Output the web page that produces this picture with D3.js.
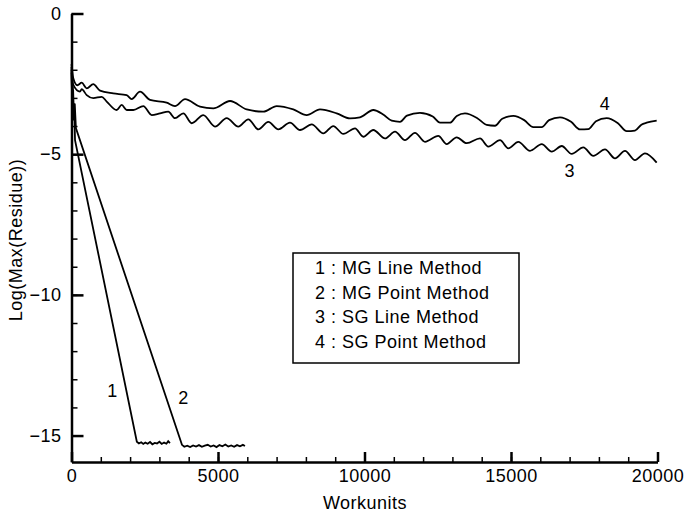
<!DOCTYPE html>
<html>
<head>
<meta charset="utf-8">
<script src="https://cdn.jsdelivr.net/npm/d3@7"></script>
<style>
  body { margin: 0; background: #fff; }
  svg { display: block; }
  text { font-family: "Liberation Sans", Arial, Helvetica, sans-serif; fill: #000; }
</style>
</head>
<body>
<svg id="chart" width="686" height="517"></svg>
<script>
// [workunits, log(max residue)]
const mgLine = [[0,-1.9],[25,-3.4],[45,-2.6],[70,-3.8],[90,-3.2],[120,-4.5],[2230,-15.22],
  [2300,-15.28],[2380,-15.24],[2450,-15.30],[2520,-15.25],[2600,-15.29],[2680,-15.23],[2760,-15.31],
  [2840,-15.26],[2920,-15.28],[3000,-15.22],[3080,-15.30],[3160,-15.25],[3240,-15.29],[3300,-15.20],[3360,-15.27]];
const mgPoint = [[0,-2.1],[30,-3.3],[55,-2.7],[80,-3.6],[110,-3.2],[150,-4.07],[3770,-15.33],
  [3850,-15.40],[3950,-15.36],[4050,-15.41],[4150,-15.35],[4250,-15.39],[4350,-15.34],[4450,-15.40],
  [4550,-15.36],[4650,-15.33],[4750,-15.39],[4850,-15.35],[4950,-15.41],[5050,-15.34],[5150,-15.38],
  [5250,-15.32],[5350,-15.39],[5450,-15.35],[5550,-15.40],[5650,-15.34],[5750,-15.38],[5850,-15.33],[5920,-15.37]];
const sgLine = [[0,-2.0],[61,-2.54],[290,-2.78],[348,-2.69],[519,-2.90],[744,-3.01],[1030,-2.96],[1201,-3.13],
  [1543,-3.43],[1713,-3.25],[1884,-3.43],[2110,-3.43],[2451,-3.29],[2737,-3.61],[3021,-3.55],[3304,-3.49],
  [3532,-3.72],[3816,-3.55],[4102,-3.90],[4498,-3.61],[4898,-4.02],[5297,-3.72],[5693,-4.02],[6034,-3.76],
  [6376,-4.12],[6717,-3.85],[7058,-4.12],[7457,-3.88],[7799,-4.14],[8198,-3.94],[8594,-4.26],[8935,-4.00],
  [9277,-4.28],[9676,-4.08],[9959,-4.38],[10300,-4.14],[10700,-4.44],[11041,-4.20],[11382,-4.50],[11723,-4.24],
  [12065,-4.56],[12519,-4.35],[12805,-4.64],[13146,-4.40],[13488,-4.61],[13942,-4.44],[14225,-4.73],[14625,-4.50],
  [14908,-4.79],[15249,-4.56],[15649,-4.88],[16048,-4.64],[16389,-4.91],[16731,-4.71],[17072,-4.99],[17468,-4.76],
  [17809,-5.06],[18208,-4.83],[18550,-5.15],[18890,-4.88],[19232,-5.21],[19573,-4.97],[19972,-5.30]];
const sgPoint = [[0,-1.8],[61,-2.30],[200,-2.55],[348,-2.46],[519,-2.66],[744,-2.51],[973,-2.74],[1427,-2.84],
  [1883,-2.90],[2054,-3.04],[2338,-2.78],[2679,-3.07],[3249,-3.17],[3532,-3.29],[3874,-3.04],[4386,-3.31],
  [4840,-3.37],[5410,-3.11],[5980,-3.41],[6546,-3.49],[7003,-3.29],[7570,-3.41],[8027,-3.61],[8481,-3.41],
  [9051,-3.55],[9505,-3.73],[9846,-3.69],[10300,-3.43],[10650,-3.60],[10929,-3.81],[11212,-3.85],[11450,-3.63],
  [11894,-3.53],[12330,-3.66],[12577,-3.88],[12918,-3.88],[13150,-3.64],[13430,-3.55],[13850,-3.72],[14171,-3.96],
  [14454,-3.99],[14700,-3.74],[15079,-3.64],[15450,-3.79],[15761,-4.04],[16048,-4.04],[16300,-3.79],[16672,-3.69],
  [17050,-3.85],[17355,-4.12],[17638,-4.11],[17900,-3.83],[18266,-3.72],[18650,-3.90],[18949,-4.18],[19232,-4.16],
  [19450,-3.95],[19631,-3.88],[19972,-3.81]];

const legendLabels = ["1 : MG Line Method", "2 : MG Point Method", "3 : SG Line Method", "4 : SG Point Method"];
// curve number tags, placed in data units
const curveTags = [{t: "1", x: 1390, y: -13.4}, {t: "2", x: 3810, y: -13.65}, {t: "3", x: 17000, y: -5.6}, {t: "4", x: 18200, y: -3.2}];
const xMajor = [0, 5000, 10000, 15000, 20000];
const yMajor = [0, -5, -10, -15];

const svg = d3.select("#chart");
const x = d3.scaleLinear().domain([0, 20000]).range([71.5, 657.5]);
const y = d3.scaleLinear().domain([-15.94, 0]).range([462, 13.5]);

// minor ticks first, then the major axes on top
svg.append("g")
    .attr("transform", "translate(0,462)")
    .call(d3.axisBottom(x).tickValues(d3.range(0, 20001, 1000)).tickSizeInner(-5).tickSizeOuter(0).tickFormat(""))
    .call(g => g.select(".domain").remove())
    .call(g => g.selectAll("line").attr("stroke", "#000").attr("stroke-width", 1.5));
svg.append("g")
    .attr("transform", "translate(71.5,0)")
    .call(d3.axisLeft(y).tickValues(d3.range(-15, 1, 1)).tickSizeInner(-6).tickSizeOuter(0).tickFormat(""))
    .call(g => g.select(".domain").remove())
    .call(g => g.selectAll("line").attr("stroke", "#000").attr("stroke-width", 1.5));

const xAxis = svg.append("g")
    .attr("transform", "translate(0,462)")
    .call(d3.axisBottom(x).tickValues(xMajor).tickSizeInner(-10).tickSizeOuter(0).tickPadding(7).tickFormat(d3.format("d")));
const yAxis = svg.append("g")
    .attr("transform", "translate(71.5,0)")
    .call(d3.axisLeft(y).tickValues(yMajor).tickSizeInner(-12).tickSizeOuter(0).tickPadding(10).tickFormat(d3.format("d")));

[xAxis, yAxis].forEach(g => {
  g.select(".domain").attr("stroke", "#000").attr("stroke-width", 2.5);
  g.selectAll(".tick line").attr("stroke", "#000").attr("stroke-width", 2.5);
  g.selectAll(".tick text")
      .style("font-family", "'Liberation Sans', Arial, sans-serif")
      .style("font-size", "18px")
      .style("letter-spacing", "0.5px")
      .attr("fill", "#000");
});

const line = d3.line().x(d => x(d[0])).y(d => y(d[1]));
const smooth = d3.line().x(d => x(d[0])).y(d => y(d[1])).curve(d3.curveMonotoneX);

const plot = svg.append("g").attr("fill", "none").attr("stroke", "#000").attr("stroke-width", 1.8);
plot.append("path").datum(mgLine).attr("d", line);
plot.append("path").datum(mgPoint).attr("d", line);
plot.append("path").datum(sgLine).attr("d", smooth);
plot.append("path").datum(sgPoint).attr("d", smooth);

svg.selectAll(".tag")
    .data(curveTags)
    .enter()
    .append("text")
    .attr("class", "tag")
    .attr("x", d => x(d.x))
    .attr("y", d => y(d.y))
    .attr("text-anchor", "middle")
    .attr("dominant-baseline", "central")
    .style("font-size", "18px")
    .text(d => d.t);

// legend box
const legend = svg.append("g").attr("transform", "translate(293,253)");
legend.append("rect")
    .attr("width", 226).attr("height", 110)
    .attr("fill", "#fff").attr("stroke", "#000").attr("stroke-width", 1.5);
legend.selectAll("text")
    .data(legendLabels)
    .enter()
    .append("text")
    .attr("x", 22)
    .attr("y", (d, i) => 21 + i * 24.5)
    .style("font-size", "18px")
    .style("letter-spacing", "0.5px")
    .text(d => d);

svg.append("text")
    .attr("x", 365).attr("y", 509)
    .attr("text-anchor", "middle")
    .style("font-size", "18px")
    .style("letter-spacing", "0.5px")
    .text("Workunits");

svg.append("text")
    .attr("transform", "translate(22,240) rotate(-90)")
    .attr("text-anchor", "middle")
    .style("font-size", "18px")
    .style("letter-spacing", "0.5px")
    .text("Log(Max(Residue))");
</script>
</body>
</html>
